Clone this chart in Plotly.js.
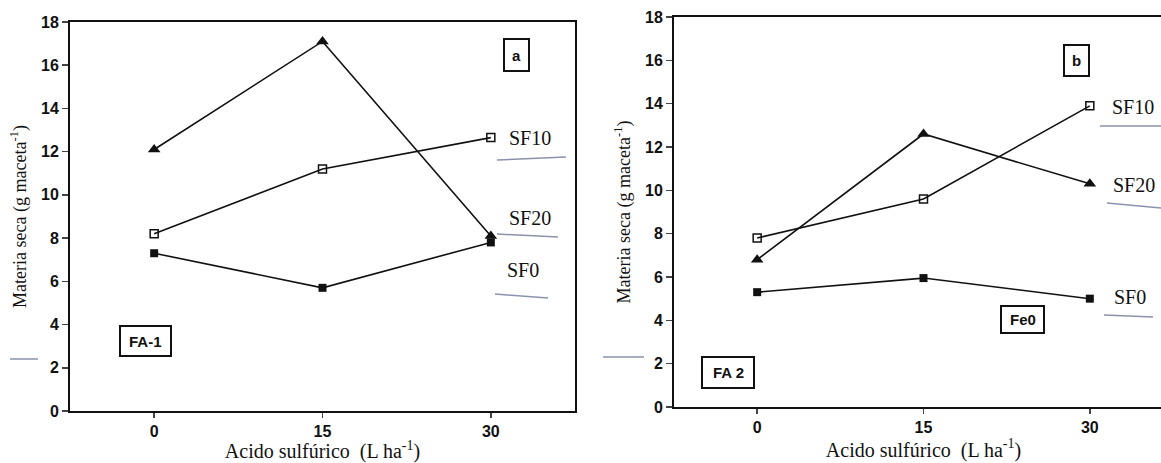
<!DOCTYPE html>
<html><head><meta charset="utf-8">
<script src="https://cdn.plot.ly/plotly-3.0.1.min.js"></script>
<style>html,body{margin:0;padding:0;overflow:hidden;background:#fff}#chart{width:1175px;height:463px}</style>
</head><body><div id="chart"></div>
<script>
const acid = [0, 15, 30];
const yTicks = [0, 2, 4, 6, 8, 10, 12, 14, 16, 18];
// Panel a (FA-1)
const aSF20 = [12.1, 17.1, 8.1];
const aSF10 = [8.2, 11.2, 12.65];
const aSF0  = [7.3, 5.7, 7.8];
// Panel b (FA 2)
const bSF10 = [7.8, 9.6, 13.9];
const bSF20 = [6.8, 12.6, 10.3];
const bSF0  = [5.3, 5.95, 5.0];
const seriesNames = ['SF10', 'SF20', 'SF0'];

const W = 1175, H = 463;
const px = x => x / W, py = y => 1 - y / H;

const lineStyle = {color: '#111', width: 1.6};
function tr(y, sym, xa, ya, name) {
  const open = sym === 'square-open';
  return {x: acid, y: y, type: 'scatter', mode: 'lines+markers', name: name, xaxis: xa, yaxis: ya,
    line: lineStyle,
    marker: {symbol: sym, size: sym === 'triangle-up' ? 11 : 8, color: '#111', line: {color: '#111', width: open ? 1.5 : 0}}};
}
const data = [
  tr(aSF20, 'triangle-up', 'x', 'y', 'SF20'),
  tr(aSF10, 'square-open', 'x', 'y', 'SF10'),
  tr(aSF0, 'square', 'x', 'y', 'SF0'),
  tr(bSF10, 'square-open', 'x2', 'y2', 'SF10'),
  tr(bSF20, 'triangle-up', 'x2', 'y2', 'SF20'),
  tr(bSF0, 'square', 'x2', 'y2', 'SF0')
];

const tickFont = {family: 'Liberation Sans, Arial, sans-serif', size: 16, weight: 'bold', color: '#111'};
const serif = 'Liberation Serif, Times New Roman, serif';
function xax(domain) {
  return {domain: domain, range: [-7.5, 37.5], tickvals: acid, ticktext: acid.map(String), ticks: 'outside', ticklen: 5, tickwidth: 1.5,
    showline: true, linewidth: 2, linecolor: '#111', mirror: true, showgrid: false, zeroline: false, tickfont: tickFont,
    title: {text: 'Acido sulfúrico  (L ha<sup>-1</sup>)', font: {family: serif, size: 20, color: '#111'}, standoff: 6}};
}
function yax(domain, anchor) {
  return {domain: domain, anchor: anchor, range: [0, 18], tickvals: yTicks, ticks: 'outside', ticklen: 6, tickwidth: 1.5,
    showline: true, linewidth: 2, linecolor: '#111', mirror: true, showgrid: false, zeroline: false, tickfont: tickFont,
    title: {text: 'Materia seca (g maceta<sup>-1</sup>)', font: {family: serif, size: 18, color: '#111'}, standoff: 10}};
}

const labelFont = {family: serif, size: 20, color: '#111'};
const boxFont = {family: 'Liberation Sans, Arial, sans-serif', size: 15, weight: 'bold', color: '#111'};
function lab(text, x, y) {
  return {text: text, x: px(x), y: py(y), xref: 'paper', yref: 'paper', xanchor: 'left', yanchor: 'middle', showarrow: false, font: labelFont};
}
function boxText(text, x0, x1, y0, y1) {
  return {text: text, x: px((x0 + x1) / 2), y: py((y0 + y1) / 2), xref: 'paper', yref: 'paper', xanchor: 'center', yanchor: 'middle',
    showarrow: false, font: boxFont};
}
function boxRect(x0, x1, y0, y1) {
  return {type: 'rect', xref: 'paper', yref: 'paper', x0: px(x0), x1: px(x1), y0: py(y0), y1: py(y1), line: {color: '#111', width: 2}, fillcolor: 'rgba(0,0,0,0)'};
}
function pencil(x0, x1, y0, y1) {
  return {type: 'line', xref: 'paper', yref: 'paper', x0: px(x0), x1: px(x1), y0: py(y0), y1: py(y1), line: {color: '#8a93ad', width: 1.5}};
}
const boxes = [
  ['a', 504, 529, 39, 71], ['FA-1', 120, 171, 326, 356],
  ['b', 1064, 1089, 45, 76], ['Fe0', 1001, 1044, 306, 333], ['FA 2', 702, 754, 357, 388]
];

const layout = {
  width: W, height: H, margin: {l: 0, r: 0, t: 0, b: 0},
  paper_bgcolor: '#fff', plot_bgcolor: '#fff', showlegend: false,
  xaxis: xax([px(70), px(575)]),
  yaxis: yax([py(411), py(22)], 'x'),
  xaxis2: Object.assign(xax([px(674), px(1173)]), {anchor: 'y2'}),
  yaxis2: yax([py(407), py(17)], 'x2'),
  annotations: [
    lab(seriesNames[0], 507, 138), lab(seriesNames[1], 507, 218), lab(seriesNames[2], 505, 270),
    lab(seriesNames[0], 1110, 107), lab(seriesNames[1], 1111, 185), lab(seriesNames[2], 1112, 297)
  ].concat(boxes.map(b => boxText(...b))),
  shapes: [
    pencil(497, 566, 160, 157), pencil(497, 558, 234, 237), pencil(495, 548, 294, 298), pencil(10, 38, 359, 359),
    pencil(1100, 1161, 126, 126), pencil(1107, 1161, 203, 208), pencil(1104, 1153, 315, 317), pencil(603, 644, 357, 357)
  ].concat(boxes.map(b => boxRect(b[1], b[2], b[3], b[4])))
};
Plotly.newPlot('chart', data, layout, {staticPlot: true});
</script></body></html>
